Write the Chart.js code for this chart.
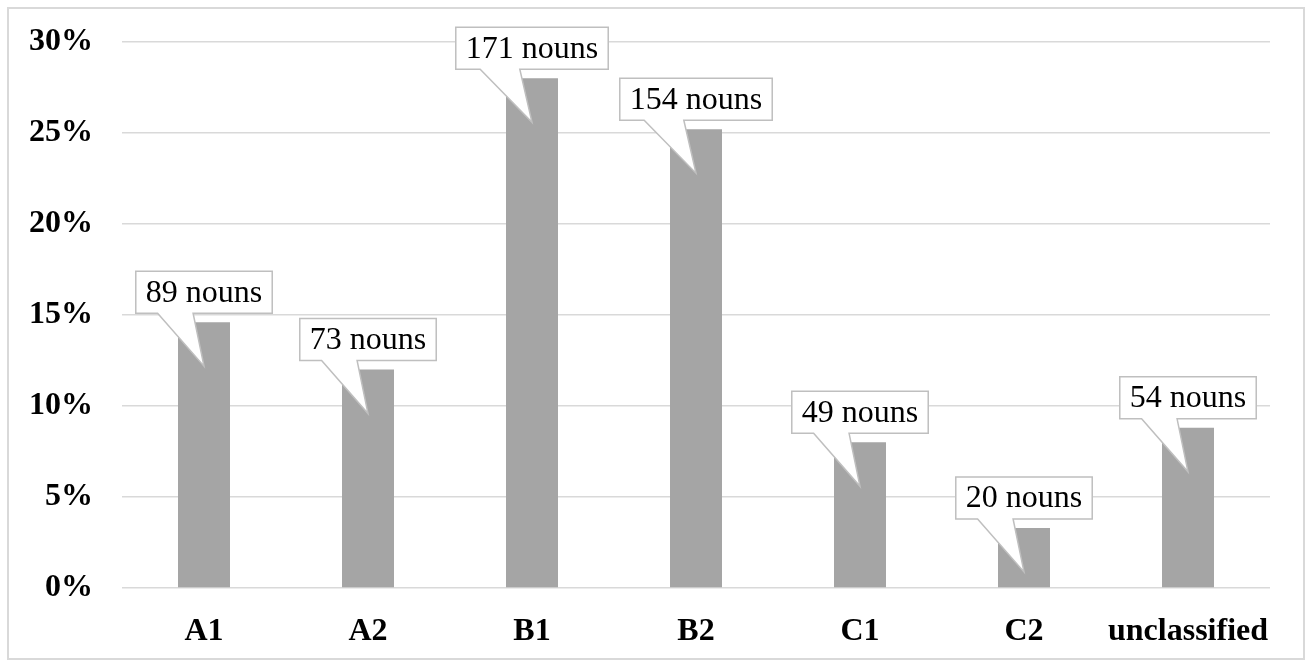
<!DOCTYPE html>
<html>
<head>
<meta charset="utf-8">
<script src="https://cdn.jsdelivr.net/npm/chart.js@4/dist/chart.umd.min.js"></script>
<style>
  html, body { margin: 0; padding: 0; background: #fff; }
  #wrap { width: 1312px; height: 668px; position: relative; }
</style>
</head>
<body>
<div id="wrap"><canvas id="chart"></canvas></div>
<script>
// Data
const levels = ['A1', 'A2', 'B1', 'B2', 'C1', 'C2', 'unclassified'];
const sharePercent = [14.6, 12.0, 28.0, 25.2, 8.0, 3.3, 8.8];
const nounCounts = [89, 73, 171, 154, 49, 20, 54];
const yTicks = [0, 5, 10, 15, 20, 25, 30];

const serif = "'Liberation Serif', 'Times New Roman', serif";

// Frame around whole chart
const framePlugin = {
  id: 'frame',
  beforeDraw(chart) {
    const ctx = chart.ctx;
    ctx.save();
    ctx.fillStyle = '#ffffff';
    ctx.fillRect(0, 0, chart.width, chart.height);
    ctx.strokeStyle = '#d9d9d9';
    ctx.lineWidth = 2;
    ctx.strokeRect(8, 8, 1296, 651);
    ctx.restore();
  }
};

// Speech-bubble labels above each bar
const calloutPlugin = {
  id: 'callouts',
  afterDatasetsDraw(chart) {
    const ctx = chart.ctx;
    const meta = chart.getDatasetMeta(0);
    ctx.save();
    ctx.font = '32px ' + serif;
    meta.data.forEach((bar, i) => {
      const text = nounCounts[i] + ' nouns';
      const w = ctx.measureText(text).width + 20;
      const h = 42;
      const cx = bar.x;
      const bottom = bar.y - 9;
      const left = cx - w / 2;
      const top = bottom - h;
      const tipX = cx;
      const tipY = bar.y + 44;
      const b1 = left + w * 0.16;
      const b2 = left + w * 0.42;

      ctx.beginPath();
      ctx.moveTo(left, top);
      ctx.lineTo(left + w, top);
      ctx.lineTo(left + w, bottom);
      ctx.lineTo(b2, bottom);
      ctx.lineTo(tipX, tipY);
      ctx.lineTo(b1, bottom);
      ctx.lineTo(left, bottom);
      ctx.closePath();
      ctx.fillStyle = '#ffffff';
      ctx.fill();
      ctx.strokeStyle = '#bfbfbf';
      ctx.lineWidth = 1.5;
      ctx.stroke();

      ctx.fillStyle = '#000000';
      ctx.textAlign = 'center';
      ctx.textBaseline = 'middle';
      ctx.fillText(text, cx, top + h / 2 + 1);
    });
    ctx.restore();
  }
};

new Chart(document.getElementById('chart'), {
  type: 'bar',
  data: {
    labels: levels,
    datasets: [{
      data: sharePercent,
      backgroundColor: '#a5a5a5',
      borderWidth: 0,
      barPercentage: 0.317,
      categoryPercentage: 1.0
    }]
  },
  options: {
    responsive: true,
    maintainAspectRatio: false,
    animation: false,
    layout: { padding: { top: 40, right: 42, left: 0, bottom: 0 } },
    plugins: {
      legend: { display: false },
      tooltip: { enabled: false }
    },
    scales: {
      x: {
        grid: { display: false, drawTicks: false },
        border: { display: false },
        ticks: {
          color: '#000',
          padding: 25,
          font: { family: serif, size: 32, weight: 'bold' },
          maxRotation: 0,
          autoSkip: false
        },
        afterFit(scale) { scale.height = 80; }
      },
      y: {
        min: 0,
        max: 30,
        afterBuildTicks(scale) { scale.ticks = yTicks.map(v => ({ value: v })); },
        grid: { color: '#d9d9d9', lineWidth: 1.5, drawTicks: false },
        border: { display: false },
        ticks: {
          color: '#000',
          padding: 29,
          font: { family: serif, size: 32, weight: 'bold', lineHeight: 0.8 },
          callback: v => v + '%'
        },
        afterFit(scale) { scale.width = 122; }
      }
    }
  },
  plugins: [framePlugin, calloutPlugin]
});
</script>
</body>
</html>
